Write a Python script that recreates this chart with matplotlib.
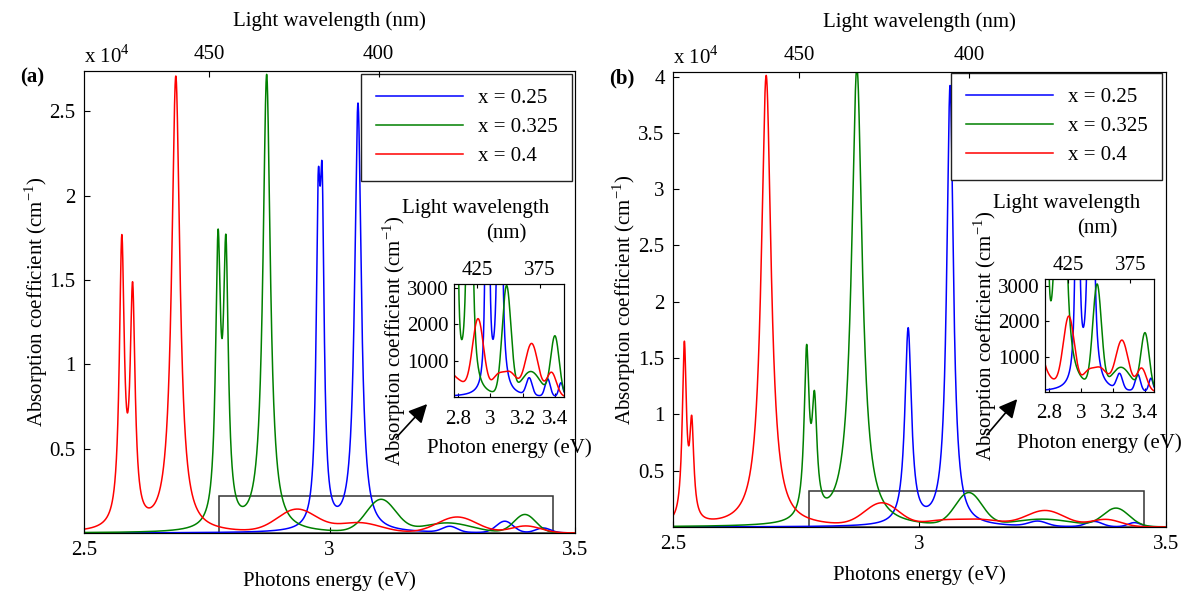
import numpy as np
import matplotlib.pyplot as plt
from matplotlib.patches import Rectangle

plt.rcParams['font.family'] = ['Liberation Serif', 'DejaVu Serif']
plt.rcParams['mathtext.fontset'] = 'custom'
plt.rcParams['mathtext.rm'] = 'Liberation Serif'
plt.rcParams['font.size'] = 15
plt.rcParams['xtick.direction'] = 'in'
plt.rcParams['ytick.direction'] = 'in'

labels = ['x = 0.25', 'x = 0.325', 'x = 0.4']
colors = ['#0000ff', '#008000', '#ff0000']

# sharp lines: centre (eV), peak value (cm^-1), half width (eV)
a_line_pos = [[2.977, 2.985, 3.058], [2.773, 2.789, 2.872], [2.577, 2.599, 2.687]]
a_line_val = [[21400, 21800, 25500], [18000, 17700, 27200], [17700, 14900, 27100]]
a_line_hw = [[0.005, 0.005, 0.008], [0.006, 0.006, 0.009], [0.006, 0.006, 0.010]]
# broad bands: centre (eV), value (cm^-1), sigma (eV)
a_band_pos = [[3.245, 3.357, 3.435], [3.105, 3.24, 3.398], [2.934, 3.06, 3.26, 3.40]]
a_band_val = [[400, 700, 300], [2000, 600, 1100], [1420, 620, 950, 420]]
a_band_sig = [[0.015, 0.017, 0.015], [0.03, 0.05, 0.022], [0.04, 0.045, 0.04, 0.03]]

b_line_pos = [[2.977, 3.062], [2.771, 2.787, 2.873], [2.523, 2.538, 2.689]]
b_line_val = [[17700, 39200], [16200, 12100, 40800], [16500, 9900, 40100]]
b_line_hw = [[0.008, 0.008], [0.006, 0.006, 0.013], [0.005, 0.005, 0.012]]
# bands of (b) = the ones seen in both insets
b_band_pos = [[3.24, 3.354, 3.436], [3.10, 3.25, 3.399],
              [2.80, 2.924, 3.04, 3.12, 3.255, 3.378]]
b_band_val = [[530, 500, 390], [3060, 700, 1680], [500, 2150, 620, 700, 1470, 680]]
b_band_sig = [[0.018, 0.016, 0.013], [0.027, 0.06, 0.026],
              [0.05, 0.035, 0.035, 0.045, 0.04, 0.03]]

energy = np.linspace(2.5, 3.5, 5001)
hc = 1240.0


def spectrum(E, lpos, lval, lhw, bpos, bval, bsig):
    def shapes(x):
        x = np.atleast_1d(x)
        cols = [w**2 / ((x - p)**2 + w**2) for p, w in zip(lpos, lhw)]
        cols += [np.exp(-0.5 * ((x - p) / s)**2) for p, s in zip(bpos, bsig)]
        return np.array(cols).T
    centres = np.array(list(lpos) + list(bpos))
    amp = np.linalg.solve(shapes(centres), np.array(list(lval) + list(bval), float))
    return shapes(E) @ amp


def panel(rect, inset_rect, tag, lpos, lval, lhw, bpos, bval, bsig,
          ymax, yticks, box_top, leg_anchor, arrow, inset_ymax):
    ax = fig.add_axes(rect)
    for i in range(3):
        a = spectrum(energy, lpos[i], lval[i], lhw[i], bpos[i], bval[i], bsig[i])
        ax.plot(energy, a / 1e4, color=colors[i], lw=1.1, label=labels[i])
    ax.set_xlim(2.5, 3.5)
    ax.set_ylim(0, ymax)
    ax.set_xticks([2.5, 3, 3.5])
    ax.set_xticklabels(['2.5', '3', '3.5'])
    ax.set_yticks(yticks)
    ax.set_yticklabels(['%g' % t for t in yticks])
    ax.set_xlabel('Photons energy (eV)', labelpad=8)
    ax.set_ylabel('Absorption coefficient (cm$^{-1}$)', labelpad=0)
    ax.tick_params(length=4, pad=6)
    for s in ax.spines.values():
        s.set_color('#333333')
    ax.add_patch(Rectangle((2.775, 0), 3.455 - 2.775, box_top, fill=False,
                           ec='#333333', lw=1.1))
    ax.text(0.0, 1.017, r'x 10$^4$', transform=ax.transAxes, ha='left', va='baseline')
    ax.text(-0.13, 0.985, tag, transform=ax.transAxes, ha='left', va='center',
            fontweight='bold')
    top = ax.twiny()
    top.set_xlim(2.5, 3.5)
    top.set_xticks([hc / 450, hc / 400])
    top.set_xticklabels(['450', '400'])
    top.tick_params(length=4, pad=5)
    top.set_xlabel('Light wavelength (nm)', labelpad=14)
    leg = ax.legend(loc='upper right', bbox_to_anchor=leg_anchor,
                    bbox_transform=fig.transFigure, borderaxespad=0,
                    handlelength=4.2, handletextpad=0.7, labelspacing=0.45,
                    borderpad=0.7, fancybox=False, framealpha=1)
    leg.get_frame().set_edgecolor('#222222')
    leg.get_frame().set_linewidth(1.0)

    ins = fig.add_axes(inset_rect)
    for i in range(3):
        a = spectrum(energy, lpos[i], lval[i], lhw[i],
                     b_band_pos[i], b_band_val[i], b_band_sig[i])
        ins.plot(energy, a, color=colors[i], lw=1.1)
    ins.set_xlim(2.775, 3.455)
    ins.set_ylim(0, inset_ymax)
    ins.set_xticks([2.8, 3, 3.2, 3.4])
    ins.set_xticklabels(['2.8', '3', '3.2', '3.4'])
    ins.set_yticks([1000, 2000, 3000])
    ins.tick_params(length=3, pad=4)
    ins.tick_params(axis='x', pad=9)
    ins.set_xlabel('Photon energy (eV)', labelpad=7)
    ins.set_ylabel('Absorption coefficient (cm$^{-1}$)', labelpad=-1)
    itop = ins.twiny()
    itop.set_xlim(2.775, 3.455)
    itop.set_xticks([hc / 425, hc / 375])
    itop.set_xticklabels(['425', '375'])
    itop.tick_params(length=3, pad=3)
    ins.text(0.2, 1.67, 'Light wavelength', transform=ins.transAxes,
             ha='center', va='center')
    ins.text(0.48, 1.44, '(nm)', transform=ins.transAxes, ha='center', va='center')
    fig.add_artist(plt.Annotation('', xy=arrow[1], xytext=arrow[0],
                                  xycoords='figure pixels', textcoords='figure pixels',
                                  arrowprops=dict(arrowstyle='-|>', color='black',
                                                  lw=1.2, mutation_scale=28)))
    return ax


fig = plt.figure(figsize=(11.89, 6.02), dpi=100)
H = 602
panel([84 / 1189, 1 - 533 / H, 491 / 1189, 462 / H],
      [454 / 1189, 1 - 397 / H, 110 / 1189, 113 / H], '(a)',
      a_line_pos, a_line_val, a_line_hw, a_band_pos, a_band_val, a_band_sig,
      2.74, [0.5, 1, 1.5, 2, 2.5], 0.22, (572 / 1189, 1 - 74 / H),
      ((394, H - 440), (429, H - 402)), 3100)
panel([673 / 1189, 1 - 527 / H, 493 / 1189, 455 / H],
      [1045 / 1189, 1 - 392 / H, 109 / 1189, 113 / H], '(b)',
      b_line_pos, b_line_val, b_line_hw, b_band_pos, b_band_val, b_band_sig,
      4.04, [0.5, 1, 1.5, 2, 2.5, 3, 3.5, 4], 0.32, (1162 / 1189, 1 - 73 / H),
      ((985, H - 437), (1019, H - 397)), 3200)

fig.savefig('out.png', dpi=100)
